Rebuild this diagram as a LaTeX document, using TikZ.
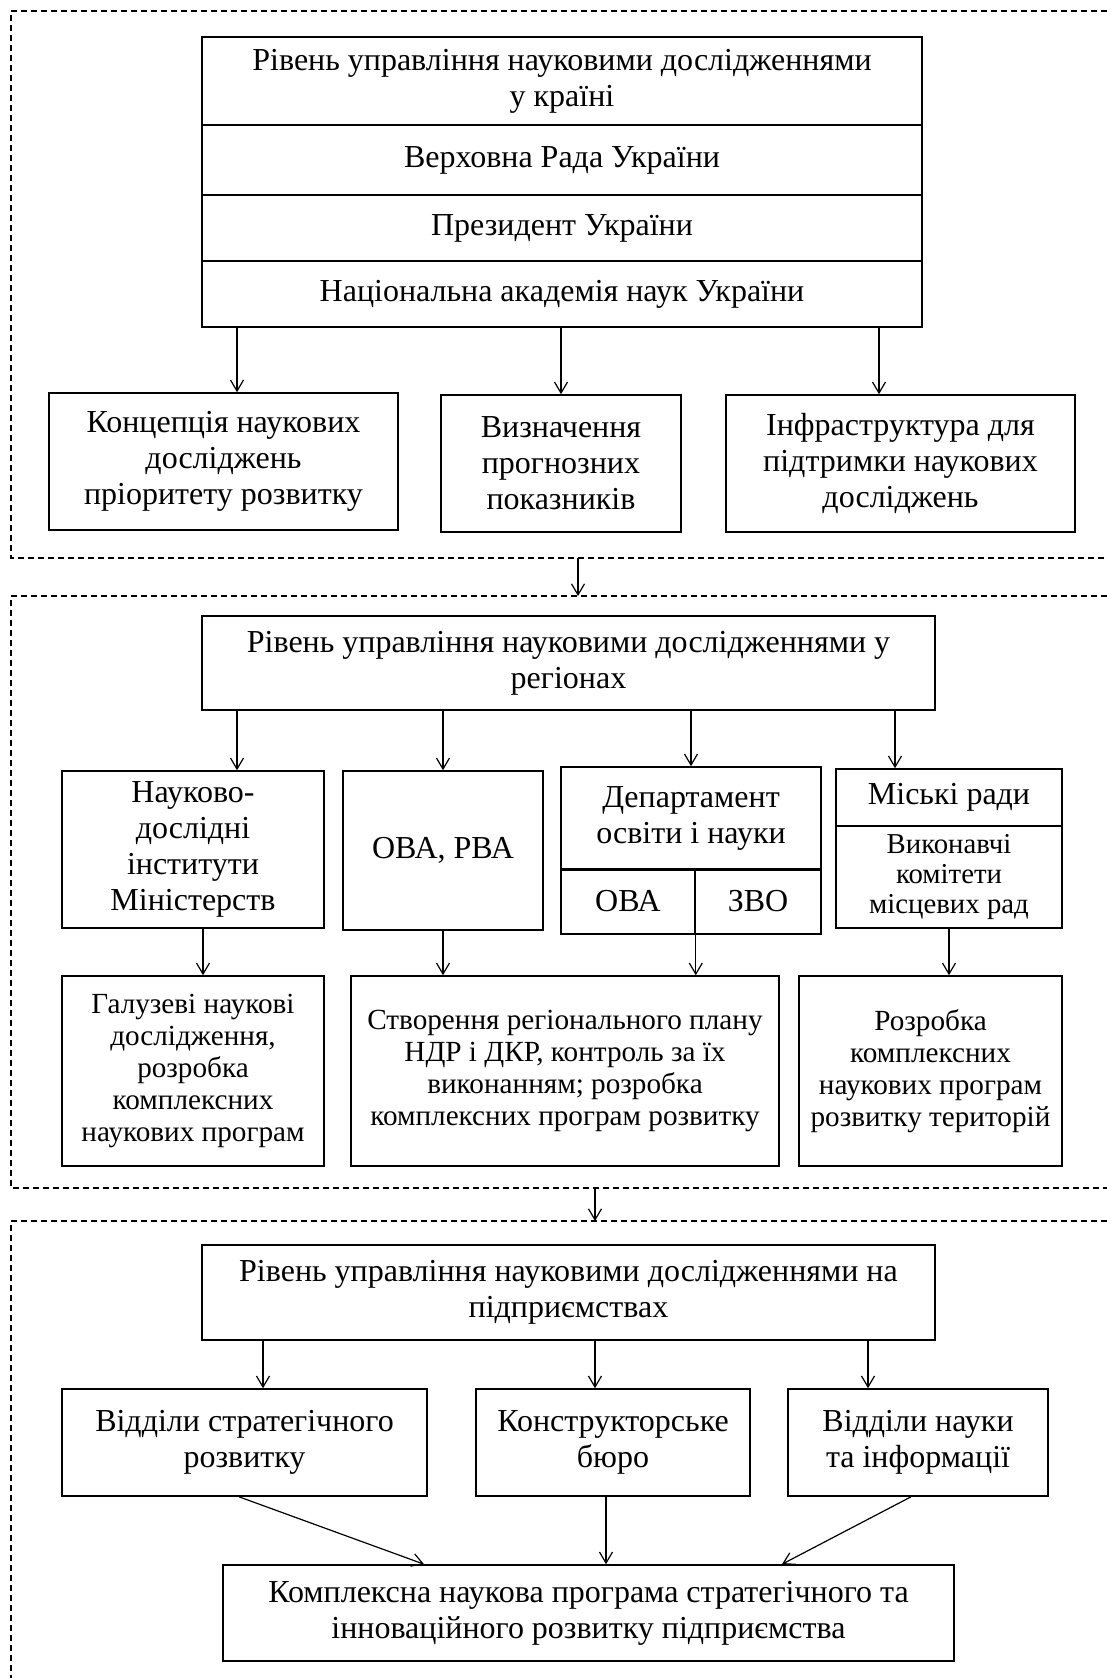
\documentclass[tikz,border=0pt]{standalone}
\usepackage{fontspec}
\setmainfont{Liberation Serif}
\usetikzlibrary{arrows.meta}

\begin{document}
\begin{tikzpicture}[x=0.5pt,y=-0.5pt]
    \tikzstyle{every node}+=[inner sep=0pt]
    \tikzstyle{blk}=[draw=black, line width=0.8pt, align=center, font=\fontsize{16}{18}\selectfont]
    \tikzstyle{sml}=[font=\fontsize{14.6}{16}\selectfont]
    \tikzstyle{arr}=[draw=black, line width=0.6pt, -{Straight Barb[length=5.5pt,width=6.5pt]}]
    \tikzstyle{frm}=[draw=black, line width=0.55pt, dash pattern=on 3pt off 2pt]
    \useasboundingbox (0,0) rectangle (1107,1678);

    \draw [frm] (1107,11) -- (11,11) -- (11,558) -- (1107,558);
    \node [blk, minimum width=360pt, minimum height=44pt] (r1) at (562,81) {Рівень управління науковими дослідженнями\\у країні};
    \node [blk, minimum width=360pt, minimum height=35pt] (r2) at (562,160) {Верховна Рада України};
    \node [blk, minimum width=360pt, minimum height=33pt] (r3) at (562,228) {Президент України};
    \node [blk, minimum width=360pt, minimum height=33pt] (r4) at (562,294) {Національна академія наук України};
    \node [blk, minimum width=174.5pt, minimum height=68.5pt] (b1) at (223.5,461.5) {Концепція наукових\\досліджень\\пріоритету розвитку};
    \node [blk, minimum width=120pt, minimum height=68.5pt] (b2) at (561,463.5) {Визначення\\прогнозних\\показників};
    \node [blk, minimum width=174.5pt, minimum height=68.5pt] (b3) at (900.5,463.5) {Інфраструктура для\\підтримки наукових\\досліджень};
    \draw [arr] ([xshift=6.75pt]b1.north |- r4.south) -- ([xshift=6.75pt]b1.north);
    \draw [arr] (b2.north |- r4.south) -- (b2.north);
    \draw [arr] ([xshift=-10.75pt]b3.north |- r4.south) -- ([xshift=-10.75pt]b3.north);

    \coordinate (f1) at (578,558);
    \coordinate (f2) at (578,596);
    \draw [arr] (f1) -- (f2);

    \draw [frm] (1107,596) -- (11,596) -- (11,1188) -- (1107,1188);
    \node [blk, minimum width=366.5pt, minimum height=47pt] (reg) at (568.5,663) {Рівень управління науковими дослідженнями у\\регіонах};
    \node [blk, minimum width=131pt, minimum height=78.5pt] (nd) at (193,849.5) {Науково-\\дослідні\\інститути\\Міністерств};
    \node [blk, minimum width=100pt, minimum height=79.5pt] (ova) at (443,850.5) {ОВА, РВА};
    \node [blk, minimum width=130pt, minimum height=51pt] (dep) at (691,818) {Департамент\\освіти і науки};
    \node [blk, minimum width=67pt, minimum height=32.5pt] (ovb) at (628,901.5) {ОВА};
    \node [blk, minimum width=63pt, minimum height=32.5pt] (zvo) at (758,901.5) {ЗВО};
    \draw [line width=1.5pt] (dep.south west) -- (dep.south east);
    \node [blk, minimum width=113pt, minimum height=28.5pt] (mr) at (949,797.5) {Міські ради};
    \node [blk, font=\fontsize{14.4}{15}\selectfont, minimum width=113pt, minimum height=51pt] (vk) at (949,877) {Виконавчі\\комітети\\місцевих рад};
    \node [blk, sml, minimum width=131pt, minimum height=95pt] (gal) at (193,1071) {Галузеві наукові\\дослідження,\\розробка\\комплексних\\наукових програм};
    \node [blk, sml, minimum width=214pt, minimum height=95pt] (plan) at (565,1071) {Створення регіонального плану\\НДР і ДКР, контроль за їх\\виконанням; розробка\\комплексних програм розвитку};
    \node [blk, sml, minimum width=131.5pt, minimum height=95pt] (rz) at (930.5,1071) {Розробка\\комплексних\\наукових програм\\розвитку територій};
    \draw [arr] ([xshift=22pt]nd.north |- reg.south) -- ([xshift=22pt]nd.north);
    \draw [arr] (ova.north |- reg.south) -- (ova.north);
    \draw [arr] (dep.north |- reg.south) -- (dep.north);
    \draw [arr] ([xshift=-27pt]mr.north |- reg.south) -- ([xshift=-27pt]mr.north);
    \draw [arr] ([xshift=5pt]nd.south) -- ([xshift=5pt]nd.south |- gal.north);
    \draw [arr] (ova.south) -- (ova.south |- plan.north);
    \draw [arr] (ovb.south east) -- (ovb.south east |- plan.north);
    \draw [arr] (vk.south) -- (vk.south |- rz.north);

    \coordinate (f3) at (595,1188);
    \coordinate (f4) at (595,1221);
    \draw [arr] (f3) -- (f4);

    \draw [frm] (1107,1221) -- (11,1221) -- (11,1678);
    \node [blk, minimum width=366.5pt, minimum height=47.5pt] (ent) at (568.5,1292.5) {Рівень управління науковими дослідженнями на\\підприємствах};
    \node [blk, minimum width=182.5pt, minimum height=53.5pt] (vs) at (244.5,1442.5) {Відділи стратегічного\\розвитку};
    \node [blk, minimum width=137pt, minimum height=53.5pt] (kb) at (613,1442.5) {Конструкторське\\бюро};
    \node [blk, minimum width=130pt, minimum height=53.5pt] (vn) at (918,1442.5) {Відділи науки\\та інформації};
    \node [blk, minimum width=365.5pt, minimum height=48pt] (kp) at (588.5,1613) {Комплексна наукова програма стратегічного та\\інноваційного розвитку підприємства};
    \draw [arr] ([xshift=9.25pt]vs.north |- ent.south) -- ([xshift=9.25pt]vs.north);
    \draw [arr] ([xshift=-9pt]kb.north |- ent.south) -- ([xshift=-9pt]kb.north);
    \draw [arr] ([xshift=-25pt]vn.north |- ent.south) -- ([xshift=-25pt]vn.north);
    \draw [arr] ([xshift=-2.75pt]vs.south) -- ([xshift=-82.25pt]kp.north);
    \draw [arr] ([xshift=-3.5pt]kb.south) -- ([xshift=-3.5pt]kb.south |- kp.north);
    \draw [arr] ([xshift=-3.5pt]vn.south) -- ([xshift=96.75pt]kp.north);
\end{tikzpicture}
\end{document}
